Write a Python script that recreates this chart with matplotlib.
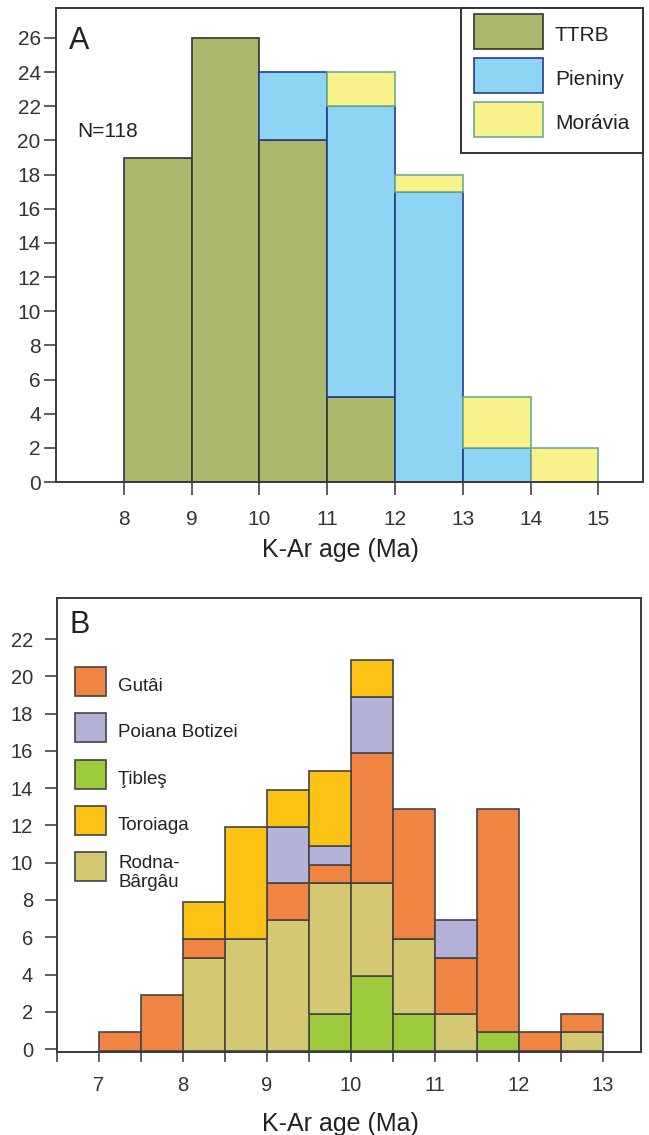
import matplotlib.pyplot as plt
from matplotlib.patches import Rectangle
import numpy as np

plt.rcParams['font.family'] = ['Liberation Sans', 'DejaVu Sans']
plt.rcParams['text.color'] = '#222222'
plt.rcParams['axes.labelcolor'] = '#222222'
plt.rcParams['xtick.color'] = '#333333'
plt.rcParams['ytick.color'] = '#333333'

# ---- panel A : counts per 1 Ma bin (left edges)
a_bins = [8, 9, 10, 11, 12, 13, 14]
a_ttrb = [19, 26, 20, 5, 0, 0, 0]
a_pieniny = [0, 0, 4, 17, 17, 2, 0]
a_moravia = [0, 0, 0, 2, 1, 3, 2]
a_names = ['TTRB', 'Pieniny', 'Morávia']
a_xticks = [8, 9, 10, 11, 12, 13, 14, 15]
a_yticks = list(range(0, 27, 2))

# ---- panel B : counts per 0.5 Ma bin (left edges), stacked bottom -> top
b_bins = [7, 7.5, 8, 8.5, 9, 9.5, 10, 10.5, 11, 11.5, 12, 12.5]
b_tibles = [0, 0, 0, 0, 0, 2, 4, 2, 0, 1, 0, 0]
b_rodna = [0, 0, 5, 6, 7, 7, 5, 4, 2, 0, 0, 1]
b_gutai = [1, 3, 1, 0, 2, 1, 7, 7, 3, 12, 1, 1]
b_poiana = [0, 0, 0, 0, 3, 1, 3, 0, 2, 0, 0, 0]
b_toroiaga = [0, 0, 2, 6, 2, 4, 2, 0, 0, 0, 0, 0]
b_xticks = [7, 8, 9, 10, 11, 12, 13]
b_yticks = list(range(0, 23, 2))

# styles
a_fc = ['#aab86c', '#8dd5f3', '#f9f28a']
a_ec = ['#333333', '#2a3a8a', '#6aae8a']
col_gutai = '#f08442'
col_poiana = '#b5b2d9'
col_tibles = '#9dcb3c'
col_toroiaga = '#fcc316'
col_rodna = '#d5c873'
b_ec = '#444444'
B_OFFSET = -0.1   # bars in panel B sit slightly below the zero line
SPINE = '#3a3a3a'


def stack(ax, lefts, series, colors, edges, width, base=0.0):
    lefts = np.asarray(lefts, dtype=float)
    bottom = np.full(len(lefts), base)
    for vals, fc, ec in zip(series, colors, edges):
        vals = np.asarray(vals, dtype=float)
        keep = vals > 0
        ax.bar(lefts[keep], vals[keep], width, bottom=bottom[keep], align='edge',
               color=fc, edgecolor=ec, linewidth=1.2)
        bottom += vals


fig = plt.figure(figsize=(6.49, 11.35), dpi=100)

# ================= A
ax = fig.add_axes([0.0863, 0.5753, 0.9045, 0.4176])
stack(ax, a_bins, [a_ttrb, a_pieniny, a_moravia], a_fc, a_ec, 1.0)
ax.set_xlim(7, 15.66)
ax.set_ylim(0, 27.75)
ax.set_xticks(a_xticks)
ax.set_yticks(a_yticks)
ax.tick_params(axis='x', length=9.4, width=1.1, pad=11, labelsize=15)
ax.tick_params(axis='y', length=9, width=1.1, pad=2, labelsize=15)
for s in ax.spines.values():
    s.set_color(SPINE)
    s.set_linewidth(1.4)
ax.set_xlabel('K-Ar age (Ma)', fontsize=18)
ax.xaxis.set_label_coords(0.485, -0.118)
ax.text(0.022, 0.9135, 'A', fontsize=22, transform=ax.transAxes, va='baseline')
ax.text(0.036, 0.728, 'N=118', fontsize=15, transform=ax.transAxes, va='baseline')

# legend A
ax.add_patch(Rectangle((0.690, 0.694), 0.310, 0.306, transform=ax.transAxes,
                       fc='white', ec='#333333', lw=1.4, zorder=5, clip_on=False))
for i, name in enumerate(a_names):
    top = 0.987 - i * 0.0928
    h = 0.0738
    ax.add_patch(Rectangle((0.712, top - h), 0.1175, h, transform=ax.transAxes,
                           fc=a_fc[i], ec=a_ec[i], lw=1.2, zorder=6))
    ax.text(0.850, top - h / 2 - 0.020, name, fontsize=15, transform=ax.transAxes,
            va='baseline', zorder=7)

# ================= B
bx = fig.add_axes([0.0878, 0.0731, 0.8998, 0.4])
stack(bx, b_bins, [b_tibles, b_rodna, b_gutai, b_poiana, b_toroiaga],
      [col_tibles, col_rodna, col_gutai, col_poiana, col_toroiaga],
      [b_ec] * 5, 0.5, base=B_OFFSET)
bx.set_xlim(6.5, 13.45)
bx.set_ylim(-0.16, 24.2)
bx.set_xticks(b_xticks)
bx.set_xticks(np.arange(6.5, 13, 1.0), minor=True)
bx.set_yticks(b_yticks)
bx.tick_params(axis='x', which='both', length=7.2, width=1.1, pad=10, labelsize=14.5)
bx.tick_params(axis='y', length=8.6, width=1.1, pad=8.6, labelsize=14.5)
for s in bx.spines.values():
    s.set_color(SPINE)
    s.set_linewidth(1.4)
bx.set_xlabel('K-Ar age (Ma)', fontsize=18)
bx.xaxis.set_label_coords(0.485, -0.132)
bx.text(0.022, 0.923, 'B', fontsize=22, transform=bx.transAxes, va='baseline')

# legend B
b_leg = [('Gutâi', col_gutai), ('Poiana Botizei', col_poiana), ('Ţibleş', col_tibles),
         ('Toroiaga', col_toroiaga), ('Rodna-\nBârgâu', col_rodna)]
for i, (name, c) in enumerate(b_leg):
    top = 0.848 - i * 0.1019
    h = 0.0639
    bx.add_patch(Rectangle((0.0308, top - h), 0.053, h, transform=bx.transAxes,
                           fc=c, ec=b_ec, lw=1.2))
    if '\n' in name:
        bx.text(0.1045, top - 0.0066, name, fontsize=13.5, transform=bx.transAxes,
                va='top', linespacing=1.12)
    else:
        bx.text(0.1045, top - h / 2 - 0.021, name, fontsize=13.5,
                transform=bx.transAxes, va='baseline')

fig.savefig('out.png', dpi=100)
